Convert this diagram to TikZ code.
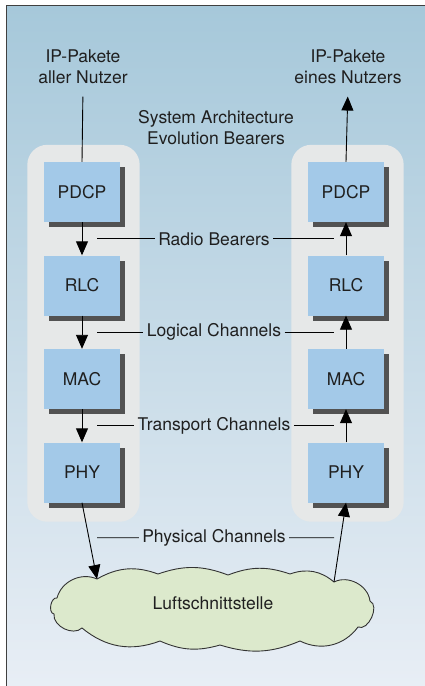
\documentclass[tikz,border=0pt]{standalone}
\usepackage{fontspec}
\setmainfont{TeX Gyre Heros}
\usetikzlibrary{shapes,arrows,arrows.meta,positioning,calc,fit,shadows,backgrounds}

\definecolor{bgtop}{HTML}{A6C8DA}
\definecolor{bgmid}{HTML}{C2D9E5}
\definecolor{bgbot}{HTML}{E8EEF5}
\definecolor{layerblue}{HTML}{A3C9E8}
\definecolor{panelgray}{HTML}{E6E8E8}
\definecolor{airgreen}{HTML}{DCE9CC}

\begin{document}
\begin{tikzpicture}[x=1pt, y=-1pt, node distance=93.5pt,
  every node/.style={font=\fontsize{17.5}{21}\selectfont, text=black!88},
  layer/.style={fill=layerblue, minimum width=76pt, minimum height=60pt,
    general shadow={fill=black!68, shadow xshift=5pt, shadow yshift=-5pt}},
  panel/.style={fill=panelgray, rounded corners=20pt, inner sep=18pt},
  flow/.style={-{Triangle[length=14pt,width=12pt]}, line width=0.9pt},
  link/.style={line width=0.9pt}]
\useasboundingbox (0,0) rectangle (425,686);

% Hintergrund
\begin{scope}[on background layer]
\shade[top color=bgtop, middle color=bgmid, bottom color=bgbot] (6,5) rectangle (425,686);
\end{scope}
\draw[black!75, line width=1.5pt] (6.5,686) -- (6.5,5.5) -- (425,5.5);

% Sender
\node[layer] (pdcpL) at (82,192) {PDCP};
\node[layer, below of=pdcpL] (rlcL) {RLC};
\node[layer, below of=rlcL] (macL) {MAC};
\node[layer, below of=macL] (phyL) {PHY};

% Empfaenger
\node[layer] (pdcpR) at (346,192) {PDCP};
\node[layer, below of=pdcpR] (rlcR) {RLC};
\node[layer, below of=rlcR] (macR) {MAC};
\node[layer, below of=macR] (phyR) {PHY};

\begin{scope}[on background layer]
\node[panel, fit=(pdcpL)(phyL), xshift=1.5pt, yshift=-1pt] (stackL) {};
\node[panel, fit=(pdcpR)(phyR), xshift=1.5pt, yshift=-1pt] (stackR) {};
\end{scope}

% Texte oben
\node[align=center] (inL) at (83,67) {IP-Pakete\\aller Nutzer};
\node[align=center] (outR) at (348,67) {IP-Pakete\\eines Nutzers};
\node[align=center] (sae) at (216,128) {System Architecture\\Evolution Bearers};

% Luftschnittstelle (Wolke)
\coordinate (airL) at (97,579);
\coordinate (airR) at (334,582);
\draw[black!80, line width=0.9pt, fill=airgreen]
  (airL) to[bend left=25] (158,574) to[bend left=20] (228,575)
  to[bend left=20] (290,574) to[bend left=30] (airR)
  to[bend left=55] (370,601) to[bend left=90] (358,627)
  to[bend left=40] (300,641) to[bend left=20] (220,645)
  to[bend left=20] (160,641) to[bend left=30] (82,628)
  to[bend left=70] (54,614) to[bend left=90] (57,598)
  to[bend left=50] cycle;
\node (air) at (213,603) {Luftschnittstelle};

% Pfeile
\draw[link, shorten <=9pt] (inL.south) -- (pdcpL.north);
\draw[flow] (pdcpL) -- (rlcL);
\draw[flow] (rlcL) -- (macL);
\draw[flow] (macL) -- (phyL);
\draw[flow] (phyL.south) -- (airL);
\draw[flow] (airR) -- (phyR.south);
\draw[flow] (phyR) -- (macR);
\draw[flow] (macR) -- (rlcR);
\draw[flow] (rlcR) -- (pdcpR);
\draw[flow, shorten >=9pt] (pdcpR.north) -- (outR.south);

% Kanaele
\node (radio) at ($(pdcpL.south)!.5!(rlcR.north)$) {Radio Bearers};
\coordinate (radioL) at ($(pdcpL.south)!.5!(rlcL.north)+(15,0)$);
\coordinate (radioR) at ($(pdcpR.south)!.5!(rlcR.north)+(-12,0)$);
\draw[link] (radioL) -- (radio.west) (radio.east) -- (radioR);

\node (logic) at ($(rlcL.south)!.5!(macR.north)$) {Logical Channels};
\coordinate (logicL) at ($(rlcL.south)!.5!(macL.north)+(15,0)$);
\coordinate (logicR) at ($(rlcR.south)!.5!(macR.north)+(-12,0)$);
\draw[link] (logicL) -- (logic.west) (logic.east) -- (logicR);

\node (trans) at ($(macL.south)!.5!(phyR.north)$) {Transport Channels};
\coordinate (transL) at ($(macL.south)!.5!(phyL.north)+(15,0)$);
\coordinate (transR) at ($(macR.south)!.5!(phyR.north)+(-12,0)$);
\draw[link] (transL) -- (trans.west) (trans.east) -- (transR);

\node (phys) at ($(phyL.south)!.5!(phyR.south)+(0,35)$) {Physical Channels};
\coordinate (physL) at ($(phyL.south)+(15,35)$);
\coordinate (physR) at ($(phyR.south)+(-12,35)$);
\draw[link] (physL) -- (phys.west) (phys.east) -- (physR);
\end{tikzpicture}
\end{document}
